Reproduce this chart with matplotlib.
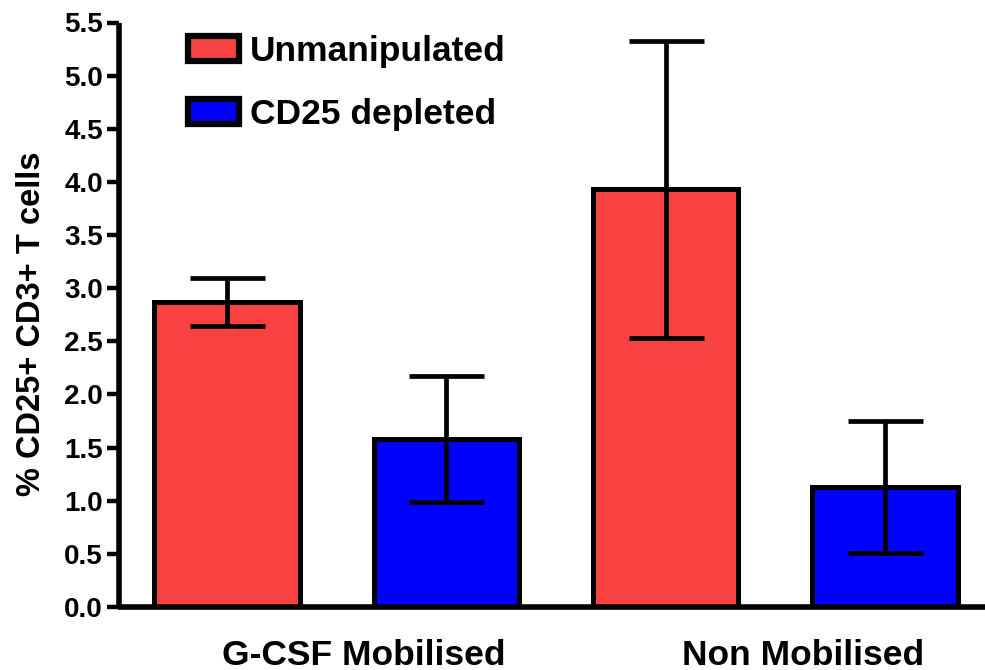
import matplotlib
matplotlib.use("Agg")
import matplotlib.pyplot as plt
from matplotlib.patches import Patch

plt.rcParams['font.family'] = ['Liberation Sans', 'DejaVu Sans']
plt.rcParams['font.weight'] = 'bold'

# Data
groups = ["G-CSF Mobilised", "Non Mobilised"]
series = ["Unmanipulated", "CD25 depleted"]
means = [2.87, 1.58, 3.93, 1.13]          # G-CSF unmanip, G-CSF depleted, Non unmanip, Non depleted
errors = [0.225, 0.59, 1.40, 0.62]
bar_series = [0, 1, 0, 1]
colors = ["#F84242", "#0000FF"]
yticks = [0.0, 0.5, 1.0, 1.5, 2.0, 2.5, 3.0, 3.5, 4.0, 4.5, 5.0, 5.5]

fig = plt.figure(figsize=(9.85, 6.7), dpi=100)
ax = fig.add_axes([118.5 / 985, 1 - 607 / 670, 1 - 118.5 / 985, (607 - 22.5) / 670])

x = list(range(len(means)))
bar_colors = [colors[s] for s in bar_series]
ax.bar(x, means, width=0.664, color=bar_colors, edgecolor="black",
       linewidth=3.6, zorder=2)
ax.errorbar(x, means, yerr=errors, fmt="none", ecolor="black",
            elinewidth=3.4, capsize=27, capthick=3.4, zorder=3)

ax.set_xlim(-0.495, 3.456)
ax.set_ylim(0, 5.5)
ax.set_yticks(yticks)
ax.set_yticklabels([f"{v:.1f}" for v in yticks])

# group labels sit a little right of each pair's centre
label_offset = 0.125
group_pos = [0.5 + label_offset, 2.5 + label_offset]
ax.set_xticks(group_pos)
ax.set_xticklabels(groups, fontsize=25.5, fontweight="bold")

ax.tick_params(axis="x", length=0, pad=23)
ax.tick_params(axis="y", length=8.3, width=3.2, pad=3, labelsize=20)
for lab in ax.get_yticklabels():
    lab.set_fontweight("bold")

for side in ("top", "right"):
    ax.spines[side].set_visible(False)
for side in ("left", "bottom"):
    ax.spines[side].set_linewidth(4.0)
    ax.spines[side].set_capstyle("butt")

ax.set_ylabel("% CD25+ CD3+ T cells", fontsize=23.5, fontweight="bold")
ax.yaxis.set_label_coords(-0.082, 0.485)

handles = [Patch(facecolor=colors[i], edgecolor="black", linewidth=4.5, label=series[i])
           for i in range(len(series))]
leg = ax.legend(handles=handles, loc="upper left",
                bbox_to_anchor=(188 / 985, 1 - 35 / 670), bbox_transform=fig.transFigure,
                frameon=False, fontsize=25.5, handlelength=1.45, handleheight=0.7,
                handletextpad=0.3, labelspacing=0.85, borderpad=0, borderaxespad=0)
for t in leg.get_texts():
    t.set_fontweight("bold")

fig.savefig("out.png", dpi=100)
